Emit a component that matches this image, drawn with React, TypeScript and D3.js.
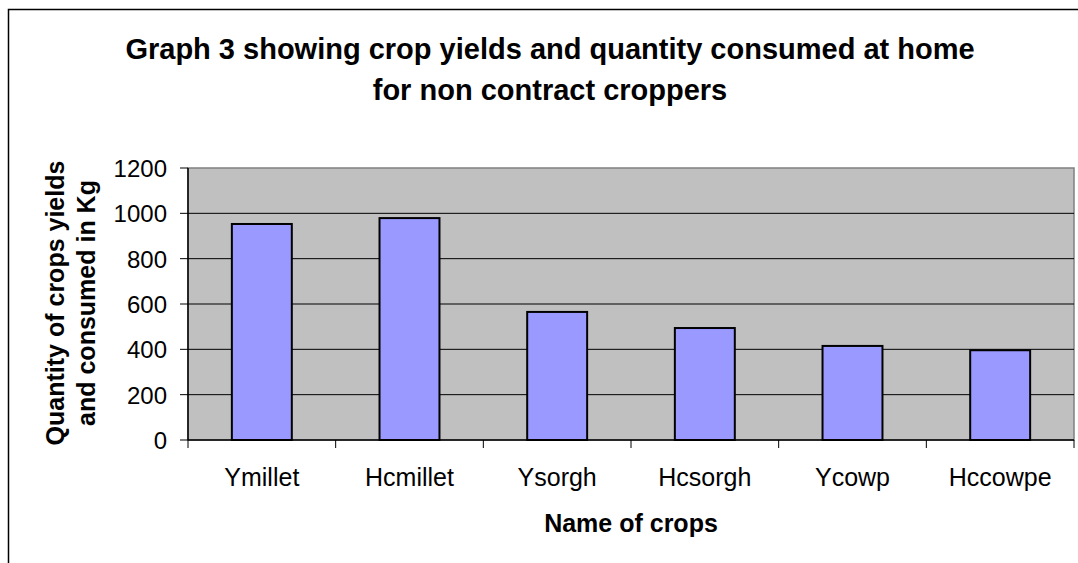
import * as d3 from "d3";

const crops = ["Ymillet", "Hcmillet", "Ysorgh", "Hcsorgh", "Ycowp", "Hccowpe"];
const quantities = [953, 979, 565, 494, 415, 396];
const yTicks = [0, 200, 400, 600, 800, 1000, 1200];
const titleLines = [
  "Graph 3 showing crop yields and quantity consumed at home",
  "for non contract croppers",
];
const yTitleLines = ["Quantity of crops yields", "and consumed in Kg"];
const xTitle = "Name of crops";

const W = 1078;
const H = 563;
const plot = { left: 188, top: 168, right: 1074, bottom: 440 };
const font = "'Liberation Sans', Arial, sans-serif";

export default function App() {
  const x = d3
    .scaleBand<string>()
    .domain(crops)
    .range([plot.left, plot.right])
    .paddingInner(0.594)
    .paddingOuter(0.297);
  const band = d3.scaleBand<string>().domain(crops).range([plot.left, plot.right]);
  const y = d3.scaleLinear().domain([0, 1200]).range([plot.bottom, plot.top]);
  const cy = (plot.top + plot.bottom) / 2;
  const cx = (plot.left + plot.right) / 2;

  return (
    <svg
      width={W}
      height={H}
      style={{ position: "absolute", left: 0, top: 0, background: "#fff" }}
      fontFamily={font}
    >
      <rect x={8.5} y={9.5} width={W + 20} height={H + 20} fill="#fff" stroke="#000" strokeWidth={1.5} />

      {titleLines.map((t, i) => (
        <text key={i} x={550} y={59 + i * 41} textAnchor="middle" fontSize={29} fontWeight="bold">
          {t}
        </text>
      ))}

      <rect
        x={plot.left}
        y={plot.top}
        width={plot.right - plot.left}
        height={plot.bottom - plot.top}
        fill="#C0C0C0"
        stroke="#808080"
        strokeWidth={1.5}
      />

      {yTicks.slice(1, -1).map((t) => (
        <line key={t} x1={plot.left} x2={plot.right} y1={y(t)} y2={y(t)} stroke="#000" strokeWidth={1} />
      ))}

      {crops.map((c, i) => (
        <rect
          key={c}
          x={x(c)}
          y={y(quantities[i])}
          width={x.bandwidth()}
          height={plot.bottom - y(quantities[i])}
          fill="#9999FF"
          stroke="#000"
          strokeWidth={2}
        />
      ))}

      <line x1={plot.left} x2={plot.left} y1={plot.top} y2={plot.bottom} stroke="#000" strokeWidth={1.5} />
      <line x1={plot.left} x2={plot.right} y1={plot.bottom} y2={plot.bottom} stroke="#000" strokeWidth={1.5} />

      {yTicks.map((t) => (
        <g key={t}>
          <line x1={plot.left - 8} x2={plot.left} y1={y(t)} y2={y(t)} stroke="#000" strokeWidth={1} />
          <text x={167} y={y(t) + 9} textAnchor="end" fontSize={24}>
            {t}
          </text>
        </g>
      ))}

      {crops.map((c, i) => (
        <g key={c}>
          <line
            x1={band(c)!}
            x2={band(c)!}
            y1={plot.bottom}
            y2={plot.bottom + 8}
            stroke="#000"
            strokeWidth={1}
          />
          <text x={band(c)! + band.bandwidth() / 2} y={486} textAnchor="middle" fontSize={25}>
            {c}
          </text>
          {i === crops.length - 1 && (
            <line x1={plot.right} x2={plot.right} y1={plot.bottom} y2={plot.bottom + 8} stroke="#000" strokeWidth={1} />
          )}
        </g>
      ))}

      <text x={cx} y={532} textAnchor="middle" fontSize={25} fontWeight="bold">
        {xTitle}
      </text>

      {yTitleLines.map((t, i) => (
        <text
          key={i}
          transform={`translate(${64 + i * 31}, ${cy - 1}) rotate(-90)`}
          textAnchor="middle"
          fontSize={25}
          fontWeight="bold"
        >
          {t}
        </text>
      ))}
    </svg>
  );
}
